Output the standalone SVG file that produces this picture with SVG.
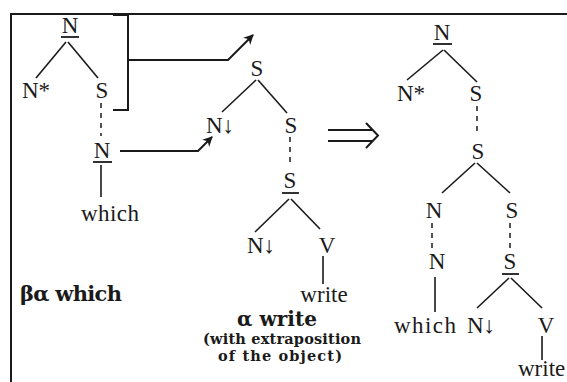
<svg xmlns="http://www.w3.org/2000/svg" width="567" height="382" viewBox="0 0 567 382">
  <defs>
    <style>
      .lbl { font-family: "Liberation Serif", "DejaVu Serif", serif; font-size: 23px; fill: #1a1a1a; text-anchor: middle; }
      .st { text-anchor: start; }
      .cap { font-family: "DejaVu Serif", "Liberation Serif", serif; font-weight: bold; fill: #1a1a1a; }
      .edge { stroke: #1a1a1a; stroke-width: 1.6; fill: none; }
      .dash { stroke: #1a1a1a; stroke-width: 1.5; fill: none; stroke-dasharray: 5 5; }
      .ul { stroke: #1a1a1a; stroke-width: 1.8; }
      .conn { stroke: #1a1a1a; stroke-width: 2; fill: none; }
    </style>
    <marker id="head" viewBox="0 0 10 10" refX="9" refY="5" markerWidth="10" markerHeight="10" markerUnits="userSpaceOnUse" orient="auto">
      <path d="M0,0 L10,5 L0,10 L3,5 Z" fill="#1a1a1a"/>
    </marker>
  </defs>
  <rect width="567" height="382" fill="#ffffff"/>

  <!-- frame -->
  <path class="conn" d="M11,382 V14 H567"/>

  <!-- elementary tree: beta-alpha which -->
  <g id="tree-which">
    <text class="lbl" x="70" y="33">N</text>
    <line class="ul" x1="61" y1="37" x2="79" y2="37"/>
    <line class="edge" x1="66" y1="42" x2="36" y2="78"/>
    <line class="edge" x1="68" y1="42" x2="98" y2="78"/>
    <text class="lbl" x="36" y="98">N*</text>
    <text class="lbl" x="102" y="98">S</text>
    <line class="dash" x1="101" y1="103" x2="101" y2="136"/>
    <text class="lbl" x="102" y="158">N</text>
    <line class="ul" x1="93" y1="162" x2="112" y2="162"/>
    <line class="edge" x1="101" y1="165" x2="101" y2="197"/>
    <text class="lbl" x="110" y="221" textLength="58">which</text>
    <path class="conn" d="M113,15 H128 V110 H113"/>
    <text class="cap" x="20" y="301" font-size="21" textLength="102">βα which</text>
  </g>

  <!-- elementary tree: alpha write -->
  <g id="tree-write">
    <text class="lbl" x="257" y="76">S</text>
    <line class="edge" x1="256" y1="80" x2="222" y2="112"/>
    <line class="edge" x1="258" y1="80" x2="287" y2="113"/>
    <text class="lbl st" x="206" y="133">N↓</text>
    <text class="lbl" x="291" y="133">S</text>
    <line class="dash" x1="290" y1="137" x2="290" y2="166"/>
    <text class="lbl" x="290" y="188">S</text>
    <line class="ul" x1="282" y1="193" x2="299" y2="193"/>
    <line class="edge" x1="289" y1="199" x2="255" y2="232"/>
    <line class="edge" x1="291" y1="199" x2="320" y2="229"/>
    <text class="lbl st" x="247" y="253">N↓</text>
    <text class="lbl" x="327" y="253">V</text>
    <line class="edge" x1="323" y1="256" x2="323" y2="284"/>
    <text class="lbl" x="324" y="302">write</text>
    <text class="cap" x="277" y="326" font-size="20" text-anchor="middle" textLength="80">α write</text>
    <text class="cap" x="282" y="344" font-size="14.5" text-anchor="middle" textLength="158">(with extraposition</text>
    <text class="cap" x="280" y="361" font-size="14.5" text-anchor="middle" textLength="124">of the object)</text>
  </g>

  <!-- derived tree -->
  <g id="tree-derived">
    <text class="lbl" x="442" y="40">N</text>
    <line class="ul" x1="433" y1="44" x2="452" y2="44"/>
    <line class="edge" x1="443" y1="50" x2="407" y2="80"/>
    <line class="edge" x1="444" y1="50" x2="477" y2="82"/>
    <text class="lbl" x="411" y="101">N*</text>
    <text class="lbl" x="476" y="101">S</text>
    <line class="dash" x1="477" y1="106" x2="477" y2="135"/>
    <text class="lbl" x="478" y="159">S</text>
    <line class="edge" x1="475" y1="163" x2="442" y2="193"/>
    <line class="edge" x1="477" y1="163" x2="510" y2="193"/>
    <text class="lbl" x="434" y="218">N</text>
    <text class="lbl" x="512" y="218">S</text>
    <line class="dash" x1="432" y1="223" x2="432" y2="252"/>
    <line class="dash" x1="510" y1="223" x2="510" y2="251"/>
    <text class="lbl" x="437" y="269">N</text>
    <text class="lbl" x="510" y="269">S</text>
    <line class="ul" x1="502" y1="274" x2="519" y2="274"/>
    <line class="edge" x1="435" y1="277" x2="435" y2="312"/>
    <text class="lbl" x="425" y="333" textLength="62">which</text>
    <line class="edge" x1="509" y1="278" x2="477" y2="308"/>
    <line class="edge" x1="511" y1="278" x2="542" y2="308"/>
    <text class="lbl st" x="467" y="333">N↓</text>
    <text class="lbl" x="546" y="333">V</text>
    <line class="edge" x1="542" y1="336" x2="542" y2="360"/>
    <text class="lbl st" x="518" y="376" font-size="20">write</text>
  </g>

  <!-- connectors -->
  <g id="connectors">
    <path class="conn" d="M128,60 H228 L253,35" marker-end="url(#head)"/>
    <path class="conn" d="M120,151 H198 L212,137" marker-end="url(#head)"/>
    <g id="derives">
      <path class="conn" stroke-width="3" d="M328,130 H372 M328,141 H372"/>
      <path class="conn" stroke-width="3" d="M366,123 L378,135.5 L366,148"/>
    </g>
  </g>
</svg>
